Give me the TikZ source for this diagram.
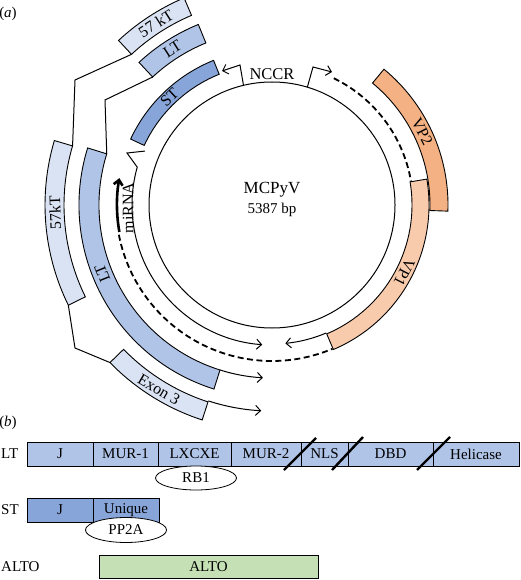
\documentclass[tikz,border=0pt]{standalone}
\usepackage{fontspec}
\setmainfont{Liberation Serif}
\usetikzlibrary{arrows.meta,calc,shapes.geometric}
\definecolor{ktc}{HTML}{DAE3F3}
\definecolor{ltc}{HTML}{B0C4E7}
\definecolor{stc}{HTML}{88A5DA}
\definecolor{vpone}{HTML}{F8CBAD}
\definecolor{vptwo}{HTML}{F4B183}
\definecolor{altoc}{HTML}{C5E0B4}
\newcommand{\fsbx}{\fontsize{15}{17}\selectfont}
\newcommand{\fsax}{\fontsize{16}{18}\selectfont}
\newcommand{\gband}[5]{%
  \filldraw[bandline, fill=#5] (#1:#3) arc[start angle=#1, end angle=#2, radius=#3]
    -- (#2:#4) arc[start angle=#2, end angle=#1, radius=#4] -- cycle;}
\tikzset{
  bandline/.style={draw=black, line width=0.9pt},
  thinl/.style={line width=1pt},
  arr/.style={-{Straight Barb[length=5pt,width=10pt]}},
  dashl/.style={line width=1.8pt, dash pattern=on 6pt off 3.5pt},
  lbl/.style={font=\fsax, inner sep=0},
  dom/.style={draw, line width=0.8pt, minimum height=24pt, inner sep=0, outer sep=0, anchor=west, font=\fsbx},
  oval/.style={ellipse, draw, line width=0.8pt, fill=white, inner sep=0, font=\fsbx},
  slashl/.style={line width=2.4pt},
  rowlbl/.style={anchor=west, font=\fsbx, inner sep=0}
}
\begin{document}
\begin{tikzpicture}[x=1pt,y=1pt]
\useasboundingbox (0,0) rectangle (520,-580);
\node[font=\fsbx, inner sep=0] (pa) at (8,-14) {(\textit{a})};
\begin{scope}[shift={(272,-205)}]
  % genome circle
  \draw[thinl] (0,0) circle[radius=123];
  \node[font=\fontsize{17}{19}\selectfont, inner sep=0] (name) at (0,15) {MCPyV};
  \node[font=\fontsize{15}{17}\selectfont, inner sep=0] (size) at (0,-5) {5387 bp};
  \node[font=\fontsize{16.5}{18}\selectfont, inner sep=0] (nccr) at (0,131) {NCCR};
  % promoters
  \draw[thinl, arr] (103.4:123) -- (-32,140) -- (-50,134);
  \draw[thinl, arr] (73.3:123) -- (41,138) -- (60,133);
  % late region
  \draw[dashl] (64:141) arc[start angle=64, end angle=9.5, radius=141];
  \gband{50.5}{-2}{158}{176}{vptwo}
  \gband{9.5}{-67}{140}{157}{vpone}
  \node[lbl, rotate=-63] (vp2) at (26:167) {VP2};
  \node[lbl, rotate=-117] (vp1) at (-27:148.5) {VP1};
  \draw[thinl, arr] (-67:139) arc[start angle=-67, end angle=-84.5, radius=139];
  \draw[dashl] (191:156) arc[start angle=191, end angle=292.8, radius=156];
  % miRNA
  \draw[line width=2.6pt, -{Straight Barb[length=5pt,width=9pt]}] (190:155) arc[start angle=190, end angle=170, radius=155];
  \node[lbl, rotate=90] (mirna) at (-144,-3) {miRNA};
  % ST
  \gband{112}{155}{141}{156}{stc}
  \node[lbl, rotate=43.5] (st) at (133.5:149) {ST};
  \draw[thinl, arr] (157:138) -- (-145,52) -- (164.3:140) arc[start angle=164.3, end angle=266, radius=140];
  % LT
  \gband{162.8}{252.5}{173}{193}{ltc}
  \node[lbl, rotate=112] (ltl) at (202:183) {LT};
  \draw[thinl, arr] (252.5:173) arc[start angle=252.5, end angle=267, radius=173];
  \gband{112.2}{133}{175}{195}{ltc}
  \node[lbl, rotate=32.6] (ltt) at (122.6:185) {LT};
  % 57kT
  \gband{163.5}{206.2}{208}{227}{ktc}
  \node[lbl, rotate=92] (ktl) at (182:217) {57kT};
  \gband{113}{133}{206}{225}{ktc}
  \node[lbl, rotate=32.6] (ktt) at (122.6:215.5) {57 kT};
  % Exon 3
  \gband{224.2}{252}{207}{226}{ktc}
  \node[lbl, rotate=-30.5] (ex3) at (238.5:216.5) {Exon 3};
  \draw[thinl, arr] (252:206) arc[start angle=252, end angle=267, radius=206];
  % splice connectors
  \draw[thinl] (133:206) -- (-197,125) -- (163.5:208);
  \draw[thinl] (133:175) -- (-167,105) -- (162.8:173);
  \draw[thinl] (206.2:227) -- (-197,-143) -- (224.2:226);
\end{scope}
% ---------- (b) ----------
\node[font=\fsbx, inner sep=0] (pb) at (8,-423) {(\textit{b})};
\node[rowlbl] (rlt) at (1,-454) {LT};
\node[dom, fill=ltc, minimum width=66pt] (lj) at (27,-454) {J};
\node[dom, fill=ltc, minimum width=65pt] (lm1) at (lj.east) {MUR-1};
\node[dom, fill=ltc, minimum width=73pt] (llx) at (lm1.east) {LXCXE};
\node[dom, fill=ltc, minimum width=70pt] (lm2) at (llx.east) {MUR-2};
\node[dom, fill=ltc, minimum width=47pt] (lnls) at (lm2.east) {NLS};
\node[dom, fill=ltc, minimum width=85pt] (ldbd) at (lnls.east) {DBD};
\node[dom, fill=ltc, minimum width=86pt] (lhel) at (ldbd.east) {Helicase};
\draw[slashl] ($(lm2.east)+(-17,-16)$) -- ($(lm2.east)+(15,16)$);
\draw[slashl] ($(lnls.east)+(-16,-16)$) -- ($(lnls.east)+(15,17)$);
\draw[slashl] ($(ldbd.east)+(-16,-16)$) -- ($(ldbd.east)+(17,17)$);
\node[oval, minimum width=81pt, minimum height=24pt] (rb1) at (196,-478) {RB1};
\node[rowlbl] (rst) at (1,-510) {ST};
\node[dom, fill=stc, minimum width=66pt] (sj) at (27,-510) {J};
\node[dom, fill=stc, minimum width=66pt] (suq) at (sj.east) {Unique};
\node[oval, minimum width=81pt, minimum height=25pt] (pp2a) at (126,-530) {PP2A};
\node[rowlbl] (ralto) at (1,-567) {ALTO};
\node[dom, fill=altoc, minimum width=219pt, minimum height=23pt] (alto) at (99,-567) {ALTO};
\end{tikzpicture}
\end{document}
